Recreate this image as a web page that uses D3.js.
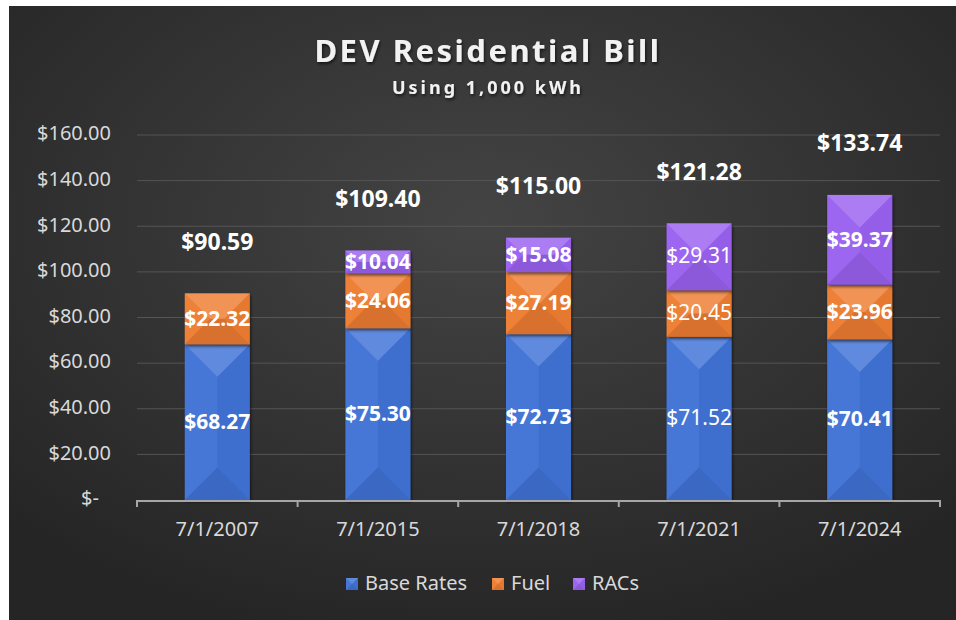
<!DOCTYPE html>
<html>
<head>
<meta charset="utf-8">
<script src="https://cdn.jsdelivr.net/npm/d3@7"></script>
<style>
  body { margin: 0; background: #ffffff; }
  svg { display: block; }
</style>
</head>
<body>
<div id="canvas"></div>
<script>
"use strict"

/* Data */
let categories = ["7/1/2007", "7/1/2015", "7/1/2018", "7/1/2021", "7/1/2024"];
let baseRates = [68.27, 75.30, 72.73, 71.52, 70.41];
let fuel = [22.32, 24.06, 27.19, 20.45, 23.96];
let racs = [0, 10.04, 15.08, 29.31, 39.37];
let totals = [90.59, 109.40, 115.00, 121.28, 133.74];
let yTicks = [0, 20, 40, 60, 80, 100, 120, 140, 160];
let seriesNames = ["Base Rates", "Fuel", "RACs"];

/* Drawing config */
let svgWidth = 956;
let svgHeight = 620;
let seriesColors = ["#4173d6", "#ed7d31", "#9a62f0"];
let plainCategory = "7/1/2021";   // that column's labels are not bold
let font = "'Noto Sans', 'Open Sans', sans-serif";

let svg = d3.select("#canvas")
    .append("svg")
    .attr("width", svgWidth)
    .attr("height", svgHeight);

let defs = svg.append("defs");
let bg = defs.append("radialGradient")
    .attr("id", "bg")
    .attr("cx", "50%").attr("cy", "35%").attr("r", "70%");
bg.append("stop").attr("offset", "0%").attr("stop-color", "#444444");
bg.append("stop").attr("offset", "100%").attr("stop-color", "#252525");

let shadow = defs.append("filter").attr("id", "shadow")
    .attr("x", "-20%").attr("y", "-20%").attr("width", "140%").attr("height", "140%");
shadow.append("feDropShadow")
    .attr("dx", 1).attr("dy", 2).attr("stdDeviation", 1.5)
    .attr("flood-color", "#000").attr("flood-opacity", 0.6);

/* Background panel */
svg.append("rect")
    .attr("x", 9)
    .attr("y", 6)
    .attr("width", svgWidth - 9)
    .attr("height", svgHeight - 6)
    .attr("fill", "url(#bg)");

/* Scales */
let xScale = d3.scaleBand()
    .domain(categories)
    .range([137, 940])
    .paddingInner(0.595)
    .paddingOuter(0.2975);

let yScale = d3.scaleLinear()
    .domain([0, 160])
    .range([500, 135]);

/* Gridlines and y labels */
svg.selectAll(".grid")
    .data(yTicks.slice(1))
    .join("line")
    .attr("x1", 137)
    .attr("x2", 940)
    .attr("y1", function(d) { return yScale(d); })
    .attr("y2", function(d) { return yScale(d); })
    .attr("stroke", "#555555")
    .attr("stroke-width", 1);

svg.selectAll(".ylab")
    .data(yTicks)
    .join("text")
    .attr("x", function(d) { return d === 0 ? 99 : 111; })
    .attr("y", function(d) { return yScale(d); })
    .attr("text-anchor", "end")
    .attr("dominant-baseline", "middle")
    .attr("fill", "#d9d9d9")
    .attr("font-family", font)
    .attr("font-size", "20px")
    .text(function(d) { return d === 0 ? "$-" : "$" + d.toFixed(2); });

/* Stacked segments */
let segments = [];
for (let i = 0; i < categories.length; i++) {
    let vals = [baseRates[i], fuel[i], racs[i]];
    let y0 = 0;
    for (let s = 0; s < vals.length; s++) {
        if (vals[s] > 0) {
            segments.push({cat: categories[i], s: s, y0: y0, y1: y0 + vals[s], v: vals[s]});
        }
        y0 += vals[s];
    }
}

// bevel facets of a rectangle, like a flat pyramid
function facets(x, y, w, h) {
    let cx = x + w / 2, cy = y + h / 2;
    let TL = [x, y], TR = [x + w, y], BL = [x, y + h], BR = [x + w, y + h];
    let p1, p2;
    if (w <= h) {
        p1 = [cx, y + w / 2];
        p2 = [cx, y + h - w / 2];
        return {
            top: [TL, TR, p1],
            bottom: [BL, BR, p2],
            left: [TL, p1, p2, BL],
            right: [TR, p1, p2, BR]
        };
    }
    p1 = [x + h / 2, cy];
    p2 = [x + w - h / 2, cy];
    return {
        top: [TL, TR, p2, p1],
        bottom: [BL, BR, p2, p1],
        left: [TL, p1, BL],
        right: [TR, p2, BR]
    };
}

let facetStyle = {
    top: {fill: "#ffffff", op: 0.17},
    bottom: {fill: "#000000", op: 0.09},
    left: {fill: "#ffffff", op: 0.03},
    right: {fill: "#000000", op: 0.03}
};

function drawBevel(g, x, y, w, h, color, withShadow) {
    let r = g.append("rect")
        .attr("x", x).attr("y", y)
        .attr("width", w).attr("height", h)
        .attr("fill", color);
    if (withShadow) r.attr("filter", "url(#shadow)");
    let f = facets(x, y, w, h);
    Object.keys(f).forEach(function(k) {
        g.append("polygon")
            .attr("points", f[k].map(function(p) { return p.join(","); }).join(" "))
            .attr("fill", facetStyle[k].fill)
            .attr("fill-opacity", facetStyle[k].op);
    });
}

let barGroup = svg.append("g");
segments.forEach(function(d) {
    let yTop = yScale(d.y1);
    drawBevel(barGroup.append("g"), xScale(d.cat), yTop,
        xScale.bandwidth(), yScale(d.y0) - yTop, seriesColors[d.s], true);
});

/* Segment labels */
svg.selectAll(".seglab")
    .data(segments)
    .join("text")
    .attr("x", function(d) { return xScale(d.cat) + xScale.bandwidth() / 2; })
    .attr("y", function(d) { return yScale((d.y0 + d.y1) / 2) + 1; })
    .attr("text-anchor", "middle")
    .attr("dominant-baseline", "middle")
    .attr("fill", "#ffffff")
    .attr("font-family", font)
    .attr("font-size", "21px")
    .attr("font-weight", function(d) { return d.cat === plainCategory ? "normal" : "bold"; })
    .text(function(d) { return "$" + d.v.toFixed(2); });

/* Total labels */
svg.selectAll(".totlab")
    .data(categories)
    .join("text")
    .attr("x", function(d) { return xScale(d) + xScale.bandwidth() / 2; })
    .attr("y", function(d, i) { return yScale(totals[i]) - 50; })
    .attr("text-anchor", "middle")
    .attr("dominant-baseline", "middle")
    .attr("fill", "#ffffff")
    .attr("font-family", font)
    .attr("font-size", "23px")
    .attr("font-weight", "bold")
    .text(function(d, i) { return "$" + totals[i].toFixed(2); });

/* X axis */
svg.append("line")
    .attr("x1", 137).attr("x2", 940)
    .attr("y1", 501).attr("y2", 501)
    .attr("stroke", "#a6a6a6")
    .attr("stroke-width", 2);

let step = xScale.step();
svg.selectAll(".xtick")
    .data(d3.range(categories.length + 1))
    .join("line")
    .attr("x1", function(d) { return 137 + d * step; })
    .attr("x2", function(d) { return 137 + d * step; })
    .attr("y1", 500)
    .attr("y2", 507)
    .attr("stroke", "#a6a6a6")
    .attr("stroke-width", 2);

svg.selectAll(".xlab")
    .data(categories)
    .join("text")
    .attr("x", function(d) { return xScale(d) + xScale.bandwidth() / 2; })
    .attr("y", 531)
    .attr("text-anchor", "middle")
    .attr("dominant-baseline", "middle")
    .attr("fill", "#d9d9d9")
    .attr("font-family", font)
    .attr("font-size", "20px")
    .text(function(d) { return d; });

/* Title */
svg.append("text")
    .attr("x", 488)
    .attr("y", 62)
    .attr("text-anchor", "middle")
    .attr("fill", "#f2f2f2")
    .attr("font-family", font)
    .attr("font-size", "31px")
    .attr("font-weight", "bold")
    .attr("letter-spacing", "2.5px")
    .attr("filter", "url(#shadow)")
    .text("DEV Residential Bill");

svg.append("text")
    .attr("x", 488)
    .attr("y", 94)
    .attr("text-anchor", "middle")
    .attr("fill", "#f2f2f2")
    .attr("font-family", font)
    .attr("font-size", "18px")
    .attr("font-weight", "bold")
    .attr("letter-spacing", "3px")
    .attr("filter", "url(#shadow)")
    .text("Using 1,000 kWh");

/* Legend */
let legendX = [346, 492, 573];
seriesNames.forEach(function(name, i) {
    let lx = legendX[i];
    drawBevel(svg.append("g"), lx, 578, 12, 12, seriesColors[i], false);
    svg.append("text")
        .attr("x", lx + 19)
        .attr("y", 585)
        .attr("dominant-baseline", "middle")
        .attr("fill", "#d9d9d9")
        .attr("font-family", font)
        .attr("font-size", "20px")
        .text(name);
});
</script>
</body>
</html>
